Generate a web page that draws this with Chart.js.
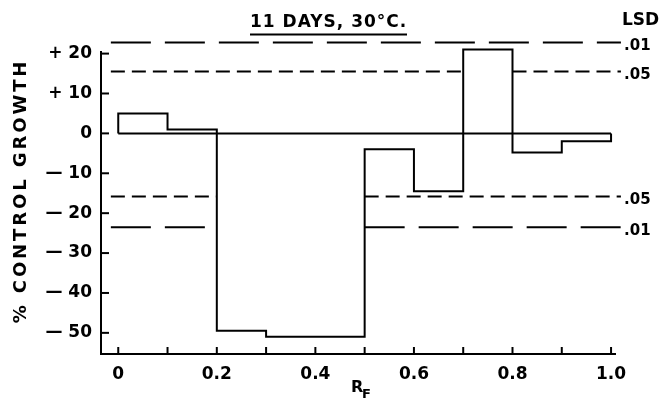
<!DOCTYPE html>
<html>
<head>
<meta charset="utf-8">
<script src="https://cdn.jsdelivr.net/npm/chart.js@4/dist/chart.umd.min.js"></script>
<style>html,body{margin:0;padding:0;background:#fff;}canvas{display:block;}</style>
</head>
<body>
<canvas id="c" width="670" height="402"></canvas>
<script>
// ---- data ----
const binStart = [0, 0.1, 0.2, 0.3, 0.4, 0.5, 0.6, 0.7, 0.8, 0.9];
const binEnd = 1.0;
const growth = [5, 1, -49.5, -51, -51, -4, -14.5, 21, -4.8, -2];
const lsdLevels = [22.8, 15.5, -15.8, -23.5];
const lsdLabels = ['.01', '.05', '.05', '.01'];
const yTickValues = [20, 10, 0, -10, -20, -30, -40, -50];
const yTickLabels = ['+ 20', '+ 10', '0', '\u2014 10', '\u2014 20', '\u2014 30', '\u2014 40', '\u2014 50'];
const xTickValues = [0, 0.1, 0.2, 0.3, 0.4, 0.5, 0.6, 0.7, 0.8, 0.9, 1.0];
const xTickLabels = ['0', '', '0.2', '', '0.4', '', '0.6', '', '0.8', '', '1.0'];
const titleText = '11 DAYS, 30\u00B0C.';
const yTitle = '% CONTROL GROWTH';

// ---- build datasets ----
const stepData = [{x: binStart[0], y: 0}];
binStart.forEach((x, i) => stepData.push({x: x, y: growth[i]}));
stepData.push({x: binEnd, y: growth[growth.length - 1]});
stepData.push({x: binEnd, y: 0});

const lsdStart = -0.015, lsdEnd = 1.02;
function lsdLine(level) {
  const pts = [{x: lsdStart, y: level}];
  binStart.forEach((x, i) => {
    const v = growth[i];
    const covered = (level > 0 && v > level) || (level < 0 && v < level);
    if (covered) {
      const e = i + 1 < binStart.length ? binStart[i + 1] : binEnd;
      pts.push({x: x, y: level});
      pts.push({x: (x + e) / 2, y: null});
      pts.push({x: e, y: level});
    }
  });
  pts.push({x: lsdEnd, y: level});
  return pts;
}
const dashFor = l => (l === '.01' ? [40, 14] : [14, 7]);

const datasets = [
  {data: stepData, stepped: true, borderColor: '#000', borderWidth: 2, pointRadius: 0, fill: false, clip: false},
  {data: [{x: binStart[0], y: 0}, {x: binEnd, y: 0}], borderColor: '#000', borderWidth: 2, pointRadius: 0, clip: false}
];
lsdLevels.forEach((lv, i) => datasets.push({
  data: lsdLine(lv), borderColor: '#000', borderWidth: 2, borderDash: dashFor(lsdLabels[i]),
  pointRadius: 0, spanGaps: false, clip: false
}));

const FONT = '"DejaVu Sans", sans-serif';

const decor = {
  id: 'decor',
  afterDraw(chart) {
    const ctx = chart.ctx, xs = chart.scales.x, ys = chart.scales.y, a = chart.chartArea;
    ctx.save();
    ctx.strokeStyle = '#000'; ctx.fillStyle = '#000'; ctx.lineWidth = 2;
    // inward ticks
    yTickValues.forEach(v => {
      const p = ys.getPixelForValue(v);
      ctx.beginPath(); ctx.moveTo(a.left, p); ctx.lineTo(a.left + 8, p); ctx.stroke();
    });
    xTickValues.forEach(v => {
      const p = xs.getPixelForValue(v);
      ctx.beginPath(); ctx.moveTo(p, a.bottom); ctx.lineTo(p, a.bottom - 7); ctx.stroke();
    });
    // title
    ctx.font = 'bold 17px ' + FONT;
    ctx.textAlign = 'left'; ctx.textBaseline = 'alphabetic';
    const tw0 = ctx.measureText(titleText).width;
    ctx.letterSpacing = Math.max(0, (156 - tw0) / (titleText.length - 1)).toFixed(1) + 'px';
    ctx.fillText(titleText, 250, 27);
    ctx.letterSpacing = '0px';
    ctx.beginPath(); ctx.moveTo(250, 34.5); ctx.lineTo(407, 34.5); ctx.stroke();
    // LSD labels
    ctx.textAlign = 'left'; ctx.textBaseline = 'middle';
    ctx.font = 'bold 17px ' + FONT;
    ctx.fillText('LSD', 622, 21);
    ctx.font = 'bold 15px ' + FONT;
    lsdLevels.forEach((lv, i) => {
      ctx.fillText(lsdLabels[i], a.right + 9, ys.getPixelForValue(lv) + 4);
    });
    // y title
    ctx.save();
    ctx.translate(21, 191);
    ctx.rotate(-Math.PI / 2);
    ctx.font = 'bold 18px ' + FONT;
    const w0 = ctx.measureText(yTitle).width;
    const sp = Math.max(0, (262 - w0) / (yTitle.length - 1));
    ctx.letterSpacing = sp.toFixed(1) + 'px';
    const w1 = ctx.measureText(yTitle).width;
    ctx.textAlign = 'left'; ctx.textBaseline = 'middle';
    ctx.fillText(yTitle, -w1 / 2, 0);
    ctx.restore();
    // x title R_F
    ctx.textAlign = 'left'; ctx.textBaseline = 'alphabetic';
    ctx.font = 'bold 16px ' + FONT;
    ctx.fillText('R', 351, 392);
    ctx.font = 'bold 13px ' + FONT;
    ctx.fillText('F', 362, 398);
    ctx.restore();
  }
};

new Chart(document.getElementById('c'), {
  type: 'line',
  data: {datasets},
  options: {
    responsive: false, animation: false, devicePixelRatio: 1,
    layout: {padding: {top: 52, right: 55, bottom: 0, left: 0}},
    plugins: {legend: {display: false}, tooltip: {enabled: false}},
    scales: {
      x: {
        type: 'linear', min: -0.035, max: 1.008,
        grid: {display: false, drawTicks: false},
        border: {display: true, color: '#000', width: 2},
        afterBuildTicks: s => { s.ticks = xTickValues.map(v => ({value: v})); },
        afterFit: s => { s.height = 48; },
        ticks: {
          color: '#000', padding: 10, maxRotation: 0, autoSkip: false,
          font: {family: FONT, size: 17, weight: 'bold'},
          callback: (v) => { const i = xTickValues.findIndex(t => Math.abs(t - v) < 1e-6); return i >= 0 ? xTickLabels[i] : ''; }
        }
      },
      y: {
        type: 'linear', min: -55.3, max: 20.4,
        grid: {display: false, drawTicks: false},
        border: {display: true, color: '#000', width: 2},
        afterBuildTicks: s => { s.ticks = yTickValues.map(v => ({value: v})); },
        afterFit: s => { s.width = 101; },
        ticks: {
          color: '#000', padding: 9, autoSkip: false,
          font: {family: FONT, size: 17, weight: 'bold'},
          callback: (v) => { const i = yTickValues.findIndex(t => Math.abs(t - v) < 1e-6); return i >= 0 ? yTickLabels[i] : ''; }
        }
      }
    }
  },
  plugins: [decor]
});
</script>
</body>
</html>
